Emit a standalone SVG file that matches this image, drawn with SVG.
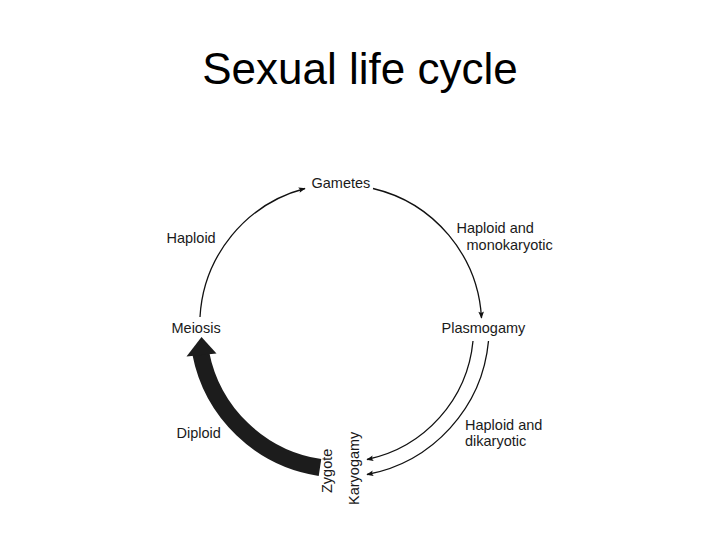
<svg xmlns="http://www.w3.org/2000/svg" width="720" height="540" viewBox="0 0 720 540">
<style>
.t{font-family:"Liberation Sans",Arial,sans-serif;font-size:14.5px;fill:#1a1a1a}
.title{font-family:"Liberation Sans",Arial,sans-serif;font-size:44px;fill:#000}
.ln{fill:none;stroke:#111;stroke-width:1.3}
</style>
<defs>
<marker id="ah" viewBox="0 0 10 10" refX="9" refY="5" markerWidth="9" markerHeight="7" markerUnits="userSpaceOnUse" orient="auto">
<path d="M0,1 L10,5 L0,9 L2,5 Z" fill="#111"/>
</marker>
</defs>
<rect width="720" height="540" fill="#fff"/>
<text class="title" x="360" y="84" text-anchor="middle">Sexual life cycle</text>
<g id="connectors">
<path class="ln" d="M200,317 A141,141 0 0 1 305,188.5" marker-end="url(#ah)"/>
<path class="ln" d="M373,188.5 A141,141 0 0 1 481.5,318" marker-end="url(#ah)"/>
<path class="ln" d="M473,341 A134,134 0 0 1 367,459.5" marker-end="url(#ah)"/>
<path class="ln" d="M488.5,341 A150,150 0 0 1 367,474.5" marker-end="url(#ah)"/>
<g id="thick-arrow">
<path d="M320,467.5 A143.5,143.5 0 0 1 200.7,353" fill="none" stroke="#1c1c1c" stroke-width="17"/>
<path d="M201.5,337 L216.5,353.5 L186.5,356.5 Z" fill="#1c1c1c"/>
</g>
</g>
<g id="gametes"><text class="t" x="311.5" y="188">Gametes</text></g>
<g id="haploid"><text class="t" x="166.5" y="243">Haploid</text></g>
<g id="haploid-mono"><text class="t" x="456.5" y="233">Haploid and</text><text class="t" x="466.5" y="249.5">monokaryotic</text></g>
<g id="meiosis"><text class="t" x="171.5" y="333">Meiosis</text></g>
<g id="plasmogamy"><text class="t" x="441.5" y="333">Plasmogamy</text></g>
<g id="diploid"><text class="t" x="176.5" y="438">Diploid</text></g>
<g id="haploid-di"><text class="t" x="465" y="430">Haploid and</text><text class="t" x="465" y="446">dikaryotic</text></g>
<g id="zygote"><text class="t" transform="translate(332,493) rotate(-90)">Zygote</text></g>
<g id="karyogamy"><text class="t" transform="translate(359,505) rotate(-90)">Karyogamy</text></g>
</svg>
